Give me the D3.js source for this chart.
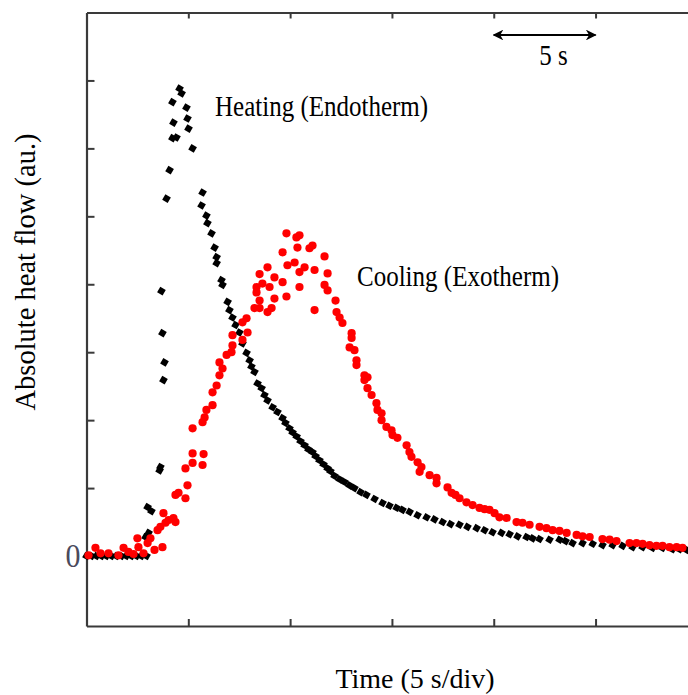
<!DOCTYPE html>
<html>
<head>
<meta charset="utf-8">
<script src="https://cdn.jsdelivr.net/npm/d3@7"></script>
<style>
  body { margin: 0; background: #fff; }
  svg { display: block; }
  .axis .domain { stroke: #3a3a3a; stroke-width: 2.2; }
  .axis line { stroke: #3a3a3a; stroke-width: 2; }
</style>
</head>
<body>
<div id="chart"></div>
<script>
// time in s (5 s per division), heat flow in divisions (au.)
var xTicks = [5, 10, 15, 20, 25];
var yTicks = [0, 1, 2, 3, 4, 5, 6, 7];

// heating run (endotherm), [time, flow]
var heating = [
  [0, 0], [0.25, 0], [0.49, 0], [0.74, 0], [0.98, 0], [1.23, 0], [1.47, 0], [1.72, 0],
  [1.96, 0], [2.21, 0], [2.46, 0], [2.70, 0], [2.95, 0],
  [2.90, 0.28], [3.05, 0.34], [3.00, 0.72], [3.19, 0.66], [3.63, 1.31], [3.59, 1.26],
  [3.78, 2.59], [3.83, 2.85], [3.73, 3.28], [3.68, 3.90], [3.93, 5.26], [4.08, 5.68],
  [4.22, 6.15], [4.27, 6.38], [4.22, 6.68], [4.42, 6.16], [4.57, 6.88], [4.67, 6.81],
  [4.91, 6.60], [4.96, 6.44], [5.01, 6.29], [5.21, 6.00], [5.70, 5.35], [5.65, 5.16],
  [5.89, 5.01], [5.94, 4.90], [6.14, 4.75], [6.29, 4.54], [6.39, 4.40], [6.39, 4.31],
  [6.63, 4.06], [6.68, 3.99], [6.93, 3.74], [7.02, 3.62], [7.17, 3.51], [7.32, 3.40],
  [7.51, 3.29], [7.66, 3.13], [7.86, 2.99], [8.01, 2.88], [8.10, 2.79], [8.25, 2.71],
  [8.40, 2.54], [8.60, 2.47], [8.74, 2.37], [8.89, 2.29], [9.14, 2.19], [9.38, 2.12],
  [9.63, 2.03], [9.77, 1.96], [9.97, 1.88], [10.12, 1.82], [10.32, 1.76], [10.51, 1.69],
  [10.71, 1.63], [10.90, 1.57], [11.10, 1.53], [11.25, 1.47], [11.44, 1.41], [11.64, 1.35],
  [11.84, 1.29], [11.98, 1.25], [12.18, 1.18], [12.43, 1.13], [12.67, 1.09], [12.92, 1.04],
  [13.16, 1.00], [13.46, 0.94], [13.75, 0.90], [14.15, 0.84], [14.54, 0.78], [14.88, 0.74],
  [15.23, 0.71], [15.52, 0.68], [15.87, 0.65], [16.26, 0.60], [16.70, 0.57], [17.09, 0.54],
  [17.49, 0.50], [17.88, 0.47], [18.32, 0.46], [18.71, 0.43], [19.16, 0.41], [19.55, 0.38],
  [19.94, 0.35], [20.38, 0.34], [20.78, 0.32], [21.17, 0.29], [21.61, 0.28], [21.91, 0.26],
  [22.25, 0.25], [22.74, 0.24], [23.23, 0.24], [23.53, 0.22], [23.87, 0.19], [24.36, 0.19],
  [24.86, 0.18], [25.34, 0.16], [25.84, 0.16], [26.33, 0.15], [26.82, 0.13], [27.31, 0.13],
  [27.80, 0.12], [28.29, 0.12], [28.78, 0.10], [29.13, 0.10], [29.47, 0.09]
];

// cooling run (exotherm), [time, flow]
var cooling = [
  [0.10, 0.01], [0.44, 0.12], [0.69, 0.04], [1.08, 0.04], [1.57, 0.01], [1.82, 0.12],
  [2.06, 0.06], [2.31, 0.03], [2.50, 0.26], [2.55, 0.13], [2.80, 0.04], [3.00, 0.19],
  [3.14, 0.26], [3.34, 0.09], [3.49, 0.38], [3.63, 0.43], [3.73, 0.13], [3.78, 0.63],
  [3.88, 0.49], [4.03, 0.53], [4.27, 0.56], [4.37, 0.50], [4.37, 0.90], [4.52, 0.93],
  [4.86, 0.85], [4.96, 1.04], [4.86, 1.29], [5.21, 1.37], [5.21, 1.51], [5.75, 1.50],
  [5.70, 1.34], [5.21, 1.88], [5.70, 1.97], [5.80, 2.04], [5.89, 2.15], [6.19, 2.22],
  [6.19, 2.41], [6.39, 2.51], [6.53, 2.66], [6.68, 2.76], [6.53, 2.85], [6.88, 2.96],
  [7.12, 3.00], [7.17, 3.10], [7.17, 3.25], [7.66, 3.18], [7.91, 3.29], [7.66, 3.44],
  [7.86, 3.50], [8.25, 3.65], [8.50, 3.65], [8.50, 3.76], [8.35, 3.88], [8.35, 3.96],
  [8.64, 4.01], [8.50, 4.15], [8.89, 4.25], [8.89, 3.59], [9.09, 3.65], [9.23, 3.79],
  [8.99, 3.96], [9.23, 4.10], [9.63, 4.03], [9.82, 3.82], [9.63, 4.47], [9.87, 4.28],
  [9.82, 4.75], [10.22, 4.32], [10.31, 4.69], [10.46, 4.72], [10.36, 4.54], [10.46, 4.18],
  [10.46, 3.96], [10.71, 4.25], [10.95, 4.53], [11.10, 4.57], [11.20, 4.21], [11.20, 3.62],
  [11.69, 4.41], [11.69, 3.99], [11.84, 4.16], [11.84, 3.91], [12.23, 3.76], [12.28, 3.59],
  [12.43, 3.51], [12.57, 3.43], [13.02, 3.28], [13.02, 3.21], [12.92, 3.07], [13.16, 3.03],
  [13.26, 2.88], [13.26, 2.81], [13.65, 2.66], [13.80, 2.63], [13.65, 2.59], [13.80, 2.47],
  [14.00, 2.37], [14.24, 2.25], [14.29, 2.15], [14.49, 2.10], [14.49, 2.00], [14.73, 1.90],
  [14.98, 1.85], [15.03, 1.78], [15.27, 1.74], [15.72, 1.63], [15.86, 1.53], [15.96, 1.46],
  [16.26, 1.38], [16.45, 1.31], [16.36, 1.24], [16.85, 1.19], [17.19, 1.15], [17.19, 1.07],
  [17.73, 1.01], [17.93, 0.93], [18.12, 0.90], [18.32, 0.85], [18.66, 0.79], [18.96, 0.75],
  [19.30, 0.71], [19.55, 0.69], [19.79, 0.68], [20.04, 0.63], [20.28, 0.57], [20.63, 0.56],
  [21.12, 0.50], [21.41, 0.49], [21.76, 0.46], [22.25, 0.43], [22.59, 0.41], [22.89, 0.38],
  [23.23, 0.37], [23.58, 0.34], [24.07, 0.31], [24.36, 0.29], [24.71, 0.28], [25.34, 0.25],
  [25.69, 0.24], [26.03, 0.22], [26.67, 0.19], [27.01, 0.19], [27.31, 0.18], [27.65, 0.16],
  [27.99, 0.15], [28.29, 0.15], [28.63, 0.13], [28.98, 0.13], [29.27, 0.12]
];

var width = 688;
var height = 695;
var serif = "'Liberation Serif', 'Times New Roman', serif";

var svg = d3.select("#chart")
  .append("svg")
  .attr("width", width)
  .attr("height", height);

var x = d3.scaleLinear().domain([0, 29.54]).range([86.5, 688]);
var y = d3.scaleLinear().domain([-1.03, 8]).range([626, 12.5]);

// frame: bottom, top, left (right side is cut off in the original)
svg.append("g")
  .attr("class", "axis")
  .attr("transform", "translate(0,626)")
  .call(d3.axisBottom(x).tickValues(xTicks).tickSizeInner(-7).tickSizeOuter(0).tickFormat(""));

svg.append("g")
  .attr("class", "axis")
  .attr("transform", "translate(0,12.5)")
  .call(d3.axisTop(x).tickValues(xTicks).tickSizeInner(-6).tickSizeOuter(0).tickFormat(""));

var yAxis = svg.append("g")
  .attr("class", "axis")
  .attr("transform", "translate(86.5,0)")
  .call(d3.axisLeft(y).tickValues(yTicks).tickSizeInner(-8).tickSizeOuter(0).tickPadding(6)
    .tickFormat(function(d) { return d === 0 ? "0" : ""; }));

yAxis.selectAll(".tick")
  .filter(function(d) { return d === 0; })
  .select("line").remove();

yAxis.selectAll("text")
  .attr("font-family", serif)
  .attr("font-size", 30)
  .attr("fill", "#4a4a5c")
  .attr("dy", "0.3em")
  .attr("transform", "scale(1,1.15)");

// markers - black ones are small chunky blobs
var blackDot = d3.symbol().type(d3.symbolSquare).size(40);

svg.append("g")
  .selectAll("path")
  .data(heating)
  .enter()
  .append("path")
  .attr("d", blackDot)
  .attr("transform", function(d) { return "translate(" + x(d[0]) + "," + y(d[1]) + ") rotate(30)"; })
  .attr("fill", "#000");

svg.append("g")
  .selectAll("circle")
  .data(cooling)
  .enter()
  .append("circle")
  .attr("cx", function(d) { return x(d[0]); })
  .attr("cy", function(d) { return y(d[1]); })
  .attr("r", 4.1)
  .attr("fill", "#ff0000");

// text is a bit taller than plain Times in the picture
function label(px, py, txt, size, anchor) {
  return svg.append("text")
    .attr("transform", "translate(" + px + "," + py + ") scale(1,1.15)")
    .attr("font-family", serif)
    .attr("font-size", size)
    .attr("text-anchor", anchor || "start")
    .attr("fill", "#000")
    .text(txt);
}

label(215, 116, "Heating (Endotherm)", 25);
label(357, 286, "Cooling (Exotherm)", 25);
label(553.5, 65, "5 s", 25, "middle");

// scale arrow, one division
var defs = svg.append("defs");
defs.append("marker")
  .attr("id", "head")
  .attr("viewBox", "0 0 10 10")
  .attr("refX", 9)
  .attr("refY", 5)
  .attr("markerWidth", 6)
  .attr("markerHeight", 6)
  .attr("markerUnits", "strokeWidth")
  .attr("orient", "auto-start-reverse")
  .append("path")
  .attr("d", "M0,0L10,5L0,10L3,5Z")
  .attr("fill", "#000");

svg.append("line")
  .attr("x1", x(20))
  .attr("x2", x(25))
  .attr("y1", 35)
  .attr("y2", 35)
  .attr("stroke", "#000")
  .attr("stroke-width", 1.8)
  .attr("marker-start", "url(#head)")
  .attr("marker-end", "url(#head)");

// axis titles
svg.append("text")
  .attr("x", 415)
  .attr("y", 688)
  .attr("text-anchor", "middle")
  .attr("font-family", serif)
  .attr("font-size", 28)
  .attr("fill", "#000")
  .text("Time (5 s/div)");

svg.append("text")
  .attr("transform", "translate(35,272) rotate(-90)")
  .attr("text-anchor", "middle")
  .attr("font-family", serif)
  .attr("font-size", 28.5)
  .attr("fill", "#000")
  .text("Absolute heat flow (au.)");
</script>
</body>
</html>
